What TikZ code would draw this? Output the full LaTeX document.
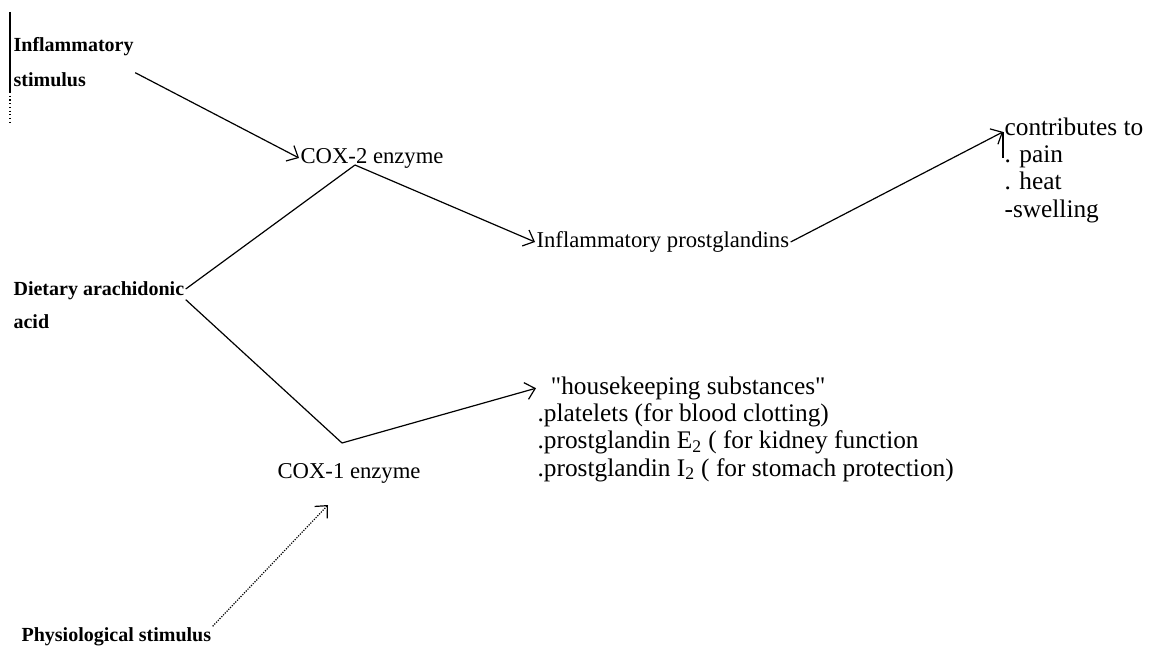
\documentclass[tikz,border=0pt]{standalone}
\usepackage{fontspec}
\setmainfont{Liberation Serif}
\newfontfamily\qfont{Liberation Serif}
\newcommand{\sq}{{\qfont\symbol{34}}}
\usetikzlibrary{arrows.meta}
\begin{document}
\begin{tikzpicture}[x=0.75pt,y=-0.75pt,
  lbl/.style={font=\fontsize{17}{21}\selectfont, inner sep=1pt, anchor=west, align=left},
  rlbl/.style={font=\fontsize{19}{20.5}\selectfont, inner sep=1pt, anchor=west, align=left},
  blbl/.style={inner sep=1pt, anchor=west, align=left},
  wire/.style={line width=0.9pt},
  conn/.style={wire, -{Straight Barb[length=7pt,width=13pt]}}]
\useasboundingbox (0,0) rectangle (1166,656);

% scan artefact at the left edge
\draw[line width=1.1pt] (10,12) -- (10,92);
\draw[line width=0.8pt, dotted] (10,92) -- (10,122);

\node[blbl, font=\fontsize{15}{26}\selectfont\bfseries] (infl) at (12,62) {Inflammatory\\stimulus};
\node[lbl] (cox2) at (299,158) {COX-2 enzyme};
\node[lbl] (prost) at (535,242) {Inflammatory prostglandins};
\node[rlbl] (contrib) at (1003,170) {contributes to\\. pain\\. heat\\-swelling};
\node[blbl, font=\fontsize{15}{25}\selectfont\bfseries] (diet) at (12,305) {Dietary arachidonic\\acid};
\node[lbl] (cox1) at (276,473) {COX-1 enzyme};
\node[rlbl] (house) at (536,429) {\hspace*{10pt}\sq housekeeping substances\sq\\.platelets (for blood clotting)\\.prostglandin E\textsubscript{2} ( for kidney function\\.prostglandin I\textsubscript{2} ( for stomach protection)};
\node[blbl, font=\fontsize{15}{18}\selectfont\bfseries] (phys) at (20,637) {Physiological stimulus};

\coordinate (j2) at (355,165);
\coordinate (j1) at (342,443);
\coordinate (t4) at (328,505);

\draw[conn] ([yshift=-8pt]infl.east) -- (cox2.west);
\draw[wire] ([yshift=12pt]diet.east) -- (j2);
\draw[conn] (j2) -- (prost.west);
\draw[conn] (prost.east) -- ([yshift=-12pt]contrib.north west) coordinate (t3);
\draw[wire] (t3) -- ++(0,26);
\draw[wire] ([yshift=4pt]diet.east) -- (j1);
\draw[conn] (j1) -- ([yshift=-10pt]house.north west);
\draw[conn, densely dotted] (phys.north east) -- (t4);
\end{tikzpicture}
\end{document}
